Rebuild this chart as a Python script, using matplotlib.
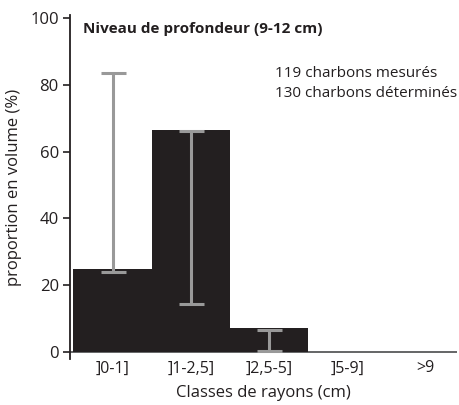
import numpy as np
import matplotlib.pyplot as plt

plt.rcParams['font.family'] = ['Open Sans', 'DejaVu Sans']

# volume proportion per radius class, with min / max range
classes = [']0-1]', ']1-2,5]', ']2,5-5]', ']5-9]', '>9']
proportion = [25.0, 66.5, 7.2, 0.0, 0.0]
err_low = [24.0, 14.5, 0.3, None, None]
err_high = [83.6, 66.3, 6.5, None, None]

dark = '#231f20'
grey = '#999999'

fig = plt.figure(figsize=(4.6, 4.05), dpi=100)
ax = fig.add_axes([0.152, 0.1136, 0.841, 0.849])

x = np.arange(len(classes))
ax.axhline(0, color='#58595b', lw=1.3, zorder=1)
ax.bar(x, proportion, width=1.0, color=dark, zorder=2)

# range bars only where the class has data
for xi, lo, hi in zip(x, err_low, err_high):
    if lo is None:
        continue
    mid = (lo + hi) / 2
    ax.errorbar(xi, mid, yerr=[[mid - lo], [hi - mid]], fmt='none',
                ecolor=grey, elinewidth=2.2, capsize=9, capthick=2.2, zorder=3)

ax.set_xlim(-0.545, 4.40)
ax.set_ylim(-2.1, 100.9)
ax.set_yticks([0, 20, 40, 60, 80, 100])
ax.set_xticks(x)
ax.set_xticklabels(classes)
ax.tick_params(axis='x', length=0, pad=1, labelsize=11.5, colors=dark)
ax.tick_params(axis='y', length=5, width=1.2, pad=3, labelsize=12, colors=dark, direction='out')

for side in ['top', 'right', 'bottom']:
    ax.spines[side].set_visible(False)
ax.spines['left'].set_color(dark)
ax.spines['left'].set_linewidth(1.3)

ax.set_ylabel('proportion en volume (%)', fontsize=12, color=dark, labelpad=6)
ax.set_xlabel('Classes de rayons (cm)', fontsize=12, color=dark, labelpad=6)

ax.text(-0.377, 96.7, 'Niveau de profondeur (9-12 cm)', fontsize=11,
        fontweight='bold', color=dark, va='center', ha='left')
ax.text(2.075, 80.4, '119 charbons mesurés\n130 charbons déterminés',
        fontsize=11, color=dark, va='center', ha='left', linespacing=1.45)

fig.savefig('out.png', dpi=100)
